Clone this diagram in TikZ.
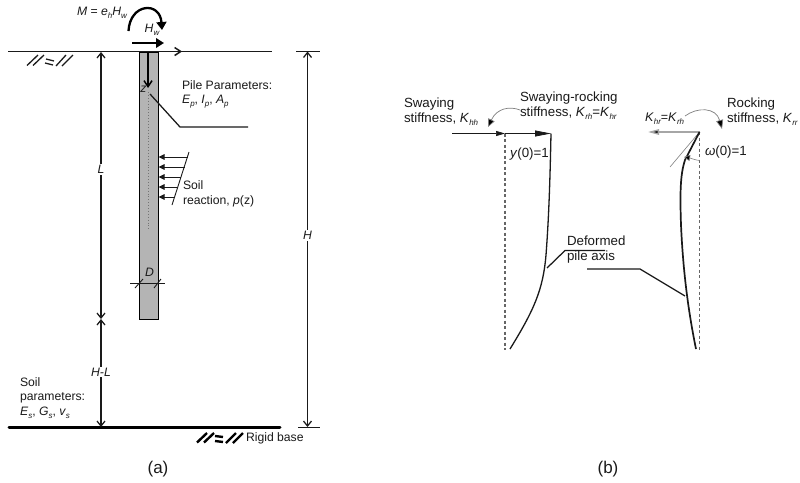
\documentclass[tikz,border=0pt]{standalone}
\usepackage{fontspec}
\setmainfont{Liberation Sans}
\usetikzlibrary{arrows.meta,calc}
\newcommand{\lowtxt}[1]{\raisebox{-0.45ex}{\fontsize{8}{8}\selectfont\itshape #1}}
\definecolor{inkc}{HTML}{1A1A1A}
\definecolor{pilegray}{HTML}{B4B4B4}
\tikzset{
  lbl/.style={inner sep=0pt,outer sep=0pt,font=\fontsize{12.2}{14.5}\selectfont,text=inkc,align=left,anchor=west},
  lblb/.style={inner sep=0pt,outer sep=0pt,font=\fontsize{13.3}{15}\selectfont,text=inkc,align=left,anchor=west},
  ctr/.style={inner sep=1pt,outer sep=0pt,font=\fontsize{12.2}{14.5}\selectfont,text=inkc,fill=white,align=center},
  bare/.style={inner sep=0pt,outer sep=0pt,font=\fontsize{12.2}{14.5}\selectfont,text=inkc},
  captxt/.style={inner sep=0pt,outer sep=0pt,font=\fontsize{17}{19}\selectfont,text=inkc},
  ln/.style={draw=inkc,line width=1.25pt},
  thinln/.style={draw=inkc,line width=0.9pt},
  dimarrow/.style={ln,{Straight Barb[length=5pt,width=8pt]}-{Straight Barb[length=5pt,width=8pt]}},
  solidarrow/.style={draw=inkc,-{Triangle[length=6pt,width=5.5pt]},line width=0.9pt},
  dashv/.style={draw=black!60,line width=1.1pt,dash pattern=on 3pt off 2.5pt},
  hatch/.style={draw=inkc,line width=1.3pt},
  hatchbold/.style={draw=black,line width=2.4pt},
  x=1pt,y=-1pt
}
\begin{document}
\begin{tikzpicture}
\useasboundingbox (0,0) rectangle (800,482);
\fill[white] (0,0) rectangle (800,482);
% Panel (a)
\coordinate (gl) at (8,51.5);
\coordinate (gr) at (272,51.5);
\coordinate (gm) at (182,51.5);
\coordinate (bl) at (9,427.5);
\coordinate (br) at (280,427.5);
\draw[ln,line width=1.5pt] (gl) -- (gr);
\draw[ln,-{Straight Barb[length=6pt,width=8pt]},line width=1.5pt] (150,51.5) -- (gm);
\draw[line width=3pt,draw=black,line cap=round] (bl) -- (br);
% pile
\node[draw=black,line width=1.4pt,fill=pilegray,minimum width=18.5pt,minimum height=267.5pt,inner sep=0pt,anchor=north west] (pile) at (139,51.5) {};
\draw[draw=black!55,line width=0.9pt,dotted] (148,92) -- (148,230);
\coordinate (ztop) at (148,52);
\coordinate (zend) at (148,88);
\draw[draw=black,line width=1.5pt,-{Straight Barb[length=6pt,width=8pt]}] (ztop) -- (zend);
\node[bare] (zl) at (143.5,89.5) {\itshape z};
\coordinate (lp1) at (150,94);
\coordinate (lp2) at (180,127);
\coordinate (lp3) at (248,127);
\draw[ln] (lp1) -- (lp2) -- (lp3);
\node[lbl] (pp) at (182,94.5) {Pile Parameters:\\\textit{E}\lowtxt{p}, \textit{I}\lowtxt{p}, \textit{A}\lowtxt{p}};
% soil reaction
\coordinate (s1) at (189,152);
\coordinate (s2) at (172,205);
\draw[thinln] (s1) -- (s2);
\foreach \yy/\xx in {157/187.5,167/184.5,177/181,187/178,197/175}
  \draw[solidarrow] (\xx,\yy) -- (158.5,\yy);
\node[lbl] (sr) at (183,194) {Soil\\reaction, \textit{p}(z)};
% moment
\coordinate (ma) at (128.5,31);
\coordinate (mb) at (162,30);
\draw[draw=black,line width=2.3pt,-{Triangle[length=8pt,width=10pt]}] (ma) .. controls (130,3) and (160,1) .. (mb);
\node[lbl] (ml) at (77,12.5) {\textit{M} = \textit{e}\lowtxt{h}\textit{H}\lowtxt{w}};
\coordinate (ha) at (132,43);
\coordinate (hb) at (164,43);
\draw[draw=black,line width=2.6pt,-{Triangle[length=8pt,width=9.5pt]}] (ha) -- (hb);
\node[bare] (hl) at (152,30) {\textit{H}\lowtxt{w}};
% L, H-L
\coordinate (lt) at (101,52);
\coordinate (lb) at (101,319);
\coordinate (hlb) at (101,427);
\draw[dimarrow] (lt) -- node[ctr,pos=0.44] (ll) {\textit{L}} (lb);
\draw[dimarrow] (lb) -- node[ctr,pos=0.49] (hll) {\textit{H-L}} (hlb);
% H
\coordinate (ht) at (307.5,51.5);
\coordinate (hbm) at (307.5,427);
\draw[dimarrow] (ht) -- node[ctr,pos=0.49] (hh) {\textit{H}} (hbm);
\draw[ln] (296,51.5) -- (320,51.5);
\draw[ln] (298,427.5) -- (320,427.5);
% D
\coordinate (da) at (130,283);
\coordinate (db) at (165,283);
\draw[thinln] (da) -- (db);
\draw[thinln] (135,288) -- (143,279);
\draw[thinln] (154,288) -- (161,279);
\node[bare] (dl) at (149.5,272) {\textit{D}};
% ground hatch
\draw[hatch] (27,65.5) -- (38,55); \draw[hatch] (33,65.5) -- (44,55);
\draw[hatch] (46,59) -- (54,61); \draw[hatch] (45,63) -- (53,65);
\draw[hatch] (56,66) -- (66,55); \draw[hatch] (62,66) -- (73,55);
% base hatch
\draw[hatchbold] (197,442.5) -- (207,433); \draw[hatchbold] (204,442.5) -- (214,433);
\draw[hatchbold] (215,436) -- (223,437); \draw[hatchbold] (215,441) -- (223,442);
\draw[hatchbold] (226,443) -- (236,433); \draw[hatchbold] (233,443) -- (243,433);
\node[lbl] (rb) at (246,438.5) {Rigid base};
\node[lbl] (sp) at (20,398) {Soil\\parameters:\\\textit{E}\lowtxt{s}, \textit{G}\lowtxt{s}, \textit{v}\lowtxt{s}};
\node[captxt] (capa) at (158,469) {(a)};
% Panel (b) left
\coordinate (lda) at (505,133.5);
\coordinate (ldb) at (505,350);
\draw[dashv] (lda) -- (ldb);
\coordinate (lin) at (452,133.5);
\draw[draw=inkc,line width=0.7pt,-{Triangle[length=9pt,width=5pt]}] (lin) -- (lda);
\coordinate (lpt) at (551,133.5);
\draw[draw=inkc,line width=0.8pt,-{Triangle[length=16pt,width=6pt]}] (lda) -- (lpt);
\draw[draw=inkc,line width=1.3pt] (lpt) .. controls (550,180) and (549,215) .. (546,255) .. controls (543,290) and (534,310) .. (510,349);
\node[lblb] (sw) at (404,112) {Swaying\\stiffness, \textit{K}\lowtxt{hh}};
\node[lblb] (srk) at (520,105.5) {Swaying-rocking\\stiffness, \textit{K}\lowtxt{rh}=\textit{K}\lowtxt{hr}};
\draw[draw=gray,line width=0.7pt,-{Triangle[length=8pt,width=7pt,fill=black]}] (520,110) .. controls (510,106) and (497,108) .. (488,127);
\node[lblb] (y0) at (510,154) {\textit{y}(0)=1};
% Panel (b) right
\coordinate (rda) at (699.5,132);
\coordinate (rdb) at (699.5,350);
\draw[dashv] (rda) -- (rdb);
\draw[draw=gray!70,line width=1.4pt,-{Triangle[length=11pt,width=5.5pt,fill=black]}] (rda) -- (648,132);
\node[lblb,font=\fontsize{12.5}{15}\selectfont] (khr) at (645,118.5) {\textit{K}\lowtxt{hr}=\textit{K}\lowtxt{rh}};
\draw[draw=gray,line width=0.7pt,-{Triangle[length=9pt,width=7pt,fill=black]}] (685,116) .. controls (697,107) and (716,107) .. (722,129);
\node[lblb] (rk) at (727,111.5) {Rocking\\stiffness, \textit{K}\lowtxt{rr}};
\node[lblb] (om) at (705,152.5) {\textit{ω}(0)=1};
\draw[draw=gray,line width=0.6pt] (rda) -- (670,167);
\draw[draw=inkc,line width=1.7pt] (rda) -- (685,160) .. controls (680,175) and (680,195) .. (681,225) .. controls (683,270) and (688,310) .. (696,349);
\draw[draw=gray,line width=0.6pt,{Triangle[length=6pt,width=6pt,fill=black]}-] (684,157) .. controls (690,158) and (695,160) .. (699.5,160.5);
% Deformed pile axis
\node[lblb] (dpa) at (567,250) {Deformed\\pile axis};
\coordinate (d1) at (547,268);
\coordinate (d2) at (565,250.5);
\coordinate (d3) at (605,250.5);
\draw[ln] (d1) -- (d2) -- (d3);
\coordinate (e1) at (587,269);
\coordinate (e2) at (640,269);
\coordinate (e3) at (685,296);
\draw[ln] (e1) -- (e2) -- (e3);
\node[captxt] (capb) at (608,469) {(b)};
\end{tikzpicture}
\end{document}
